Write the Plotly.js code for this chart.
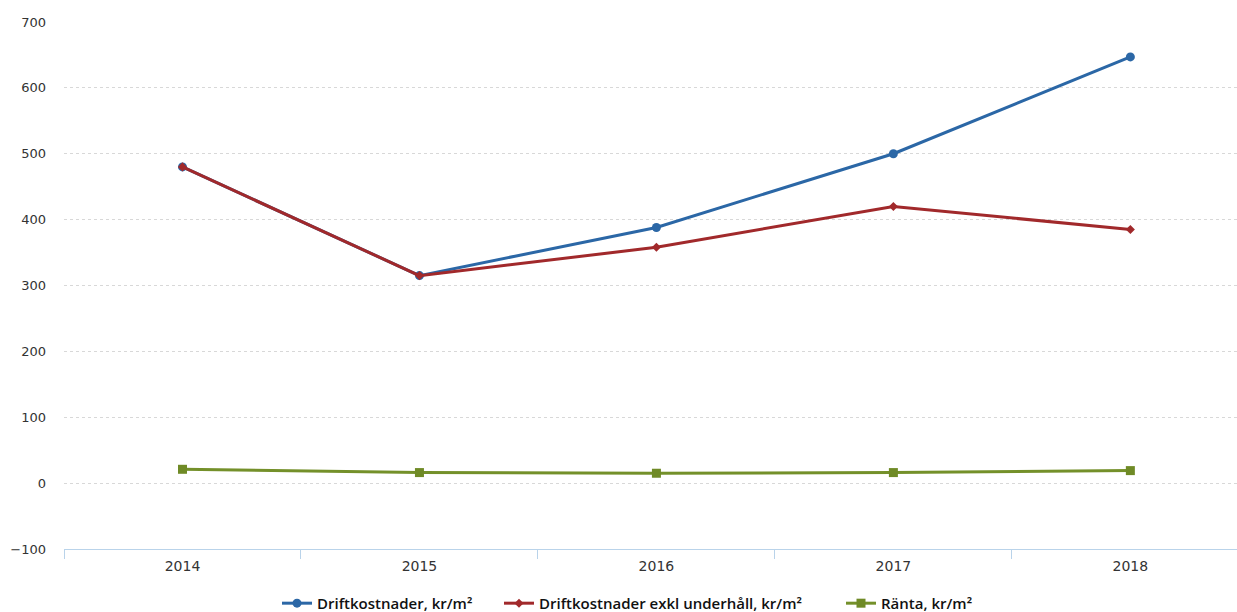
<!DOCTYPE html>
<html>
<head>
<meta charset="utf-8">
<script src="https://cdn.plot.ly/plotly-3.0.1.min.js"></script>
<style>html,body{margin:0;padding:0;background:#fff;}#chart{width:1237px;height:612px;}</style>
</head>
<body>
<div id="chart"></div>
<script>
const years = ["2014", "2015", "2016", "2017", "2018"];
const drift = [480, 315, 388, 500, 647];
const driftExkl = [480, 315, 358, 420, 385];
const ranta = [21, 16, 15, 16, 19];
const seriesNames = ["Driftkostnader, kr/m²", "Driftkostnader exkl underhåll, kr/m²", "Ränta, kr/m²"];

const xIdx = years.map((_, i) => i);

const traces = [
  {x: xIdx, y: drift, name: seriesNames[0], mode: "lines+markers", legend: "legend",
   line: {color: "#2b67a6", width: 3}, marker: {symbol: "circle", size: 9, color: "#2b67a6"}},
  {x: xIdx, y: driftExkl, name: seriesNames[1], mode: "lines+markers", legend: "legend2",
   line: {color: "#a1292b", width: 3}, marker: {symbol: "diamond", size: 7, color: "#a1292b"}},
  {x: xIdx, y: ranta, name: seriesNames[2], mode: "lines+markers", legend: "legend3",
   line: {color: "#74902a", width: 3}, marker: {symbol: "square", size: 9, color: "#6f8a26"}}
];

function leg(px) {
  return {orientation: "h", x: px / 1237, xanchor: "left", xref: "container",
          y: 0.014, yanchor: "middle", yref: "container",
          font: {family: "Open Sans", size: 15, color: "#111", weight: 600}, itemwidth: 30};
}

const layout = {
  width: 1237, height: 612,
  margin: {l: 64, r: 0, t: 22, b: 63, autoexpand: false},
  paper_bgcolor: "#ffffff", plot_bgcolor: "#ffffff",
  showlegend: true,
  legend: leg(277),
  legend2: leg(499),
  legend3: leg(841),
  xaxis: {
    type: "linear", range: [-0.5, 4.45],
    tickmode: "array", tickvals: xIdx, ticktext: years,
    ticks: "", showgrid: false, zeroline: false,
    showline: true, linecolor: "#b9d3ea", linewidth: 1,
    ticklabelstandoff: 4,
    tickfont: {family: "DejaVu Sans", size: 14, color: "#333"},
    minor: {tickmode: "array", tickvals: [-0.5, 0.5, 1.5, 2.5, 3.5, 4.5], ticks: "outside", ticklen: 9, tickcolor: "#b9d3ea", showgrid: false}
  },
  yaxis: {
    range: [-100, 700], tickmode: "linear", tick0: 0, dtick: 100,
    showgrid: true, gridcolor: "#d8d8d8", griddash: "dot", gridwidth: 1,
    zeroline: false, showline: false, ticks: "",
    ticklabelstandoff: 17,
    tickfont: {family: "DejaVu Sans", size: 13, color: "#333"}
  }
};

Plotly.newPlot("chart", traces, layout, {displayModeBar: false, staticPlot: true});
</script>
</body>
</html>
